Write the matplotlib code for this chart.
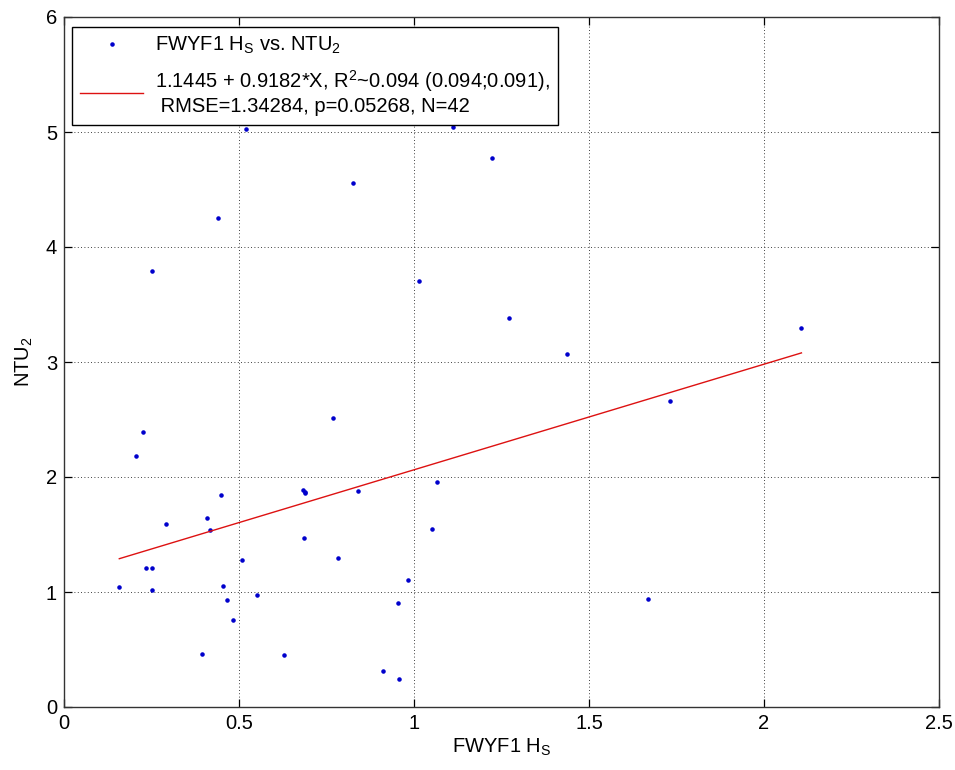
import matplotlib
matplotlib.use("Agg")
import matplotlib.pyplot as plt
import numpy as np

# FWYF1 Hs (x) vs NTU2 (y)
hs = [0.521, 1.110, 1.222, 0.825, 0.441, 0.252, 1.013, 1.271, 1.437, 2.107,
      0.769, 1.732, 0.227, 0.205, 0.449, 0.683, 0.689, 0.839, 1.067, 0.292,
      0.409, 0.417, 1.051, 0.686, 0.508, 0.783, 0.233, 0.251, 0.158, 0.252,
      0.454, 0.984, 0.465, 0.551, 0.954, 1.668, 0.484, 0.395, 0.629, 0.911,
      0.957, 0.689]
ntu = [5.026, 5.040, 4.770, 4.557, 4.252, 3.794, 3.707, 3.379, 3.070, 3.300,
       2.513, 2.665, 2.394, 2.183, 1.843, 1.887, 1.870, 1.878, 1.953, 1.591,
       1.640, 1.542, 1.544, 1.470, 1.278, 1.296, 1.209, 1.209, 1.043, 1.017,
       1.052, 1.107, 0.930, 0.977, 0.904, 0.935, 0.757, 0.461, 0.452, 0.313,
       0.246, 1.865]

intercept, slope = 1.1445, 0.9182
fit_label = ("1.1445 + 0.9182*X, R$^2$~0.094 (0.094;0.091),\n"
             " RMSE=1.34284, p=0.05268, N=42")

plt.rcParams.update({
    "font.family": ["Liberation Sans", "DejaVu Sans"],
    "font.size": 14.5,
    "mathtext.default": "regular",
    "axes.linewidth": 1.0,
    "xtick.direction": "in", "ytick.direction": "in",
    "xtick.top": True, "ytick.right": True,
    "xtick.major.size": 6, "ytick.major.size": 6,
    "xtick.major.width": 0.9, "ytick.major.width": 0.9,
    "xtick.major.pad": 5, "ytick.major.pad": 5,
})

fig = plt.figure(figsize=(9.55, 7.70), dpi=100)
ax = fig.add_axes([64 / 955, 1 - 707 / 770, 875 / 955, 690 / 770])

x = np.array(hs)
y = np.array(ntu)
ax.plot(x, y, ".", color="#0000CC", ms=4.5, label="FWYF1 H$_S$ vs. NTU$_2$")
xf = np.array([x.min(), x.max()])
ax.plot(xf, intercept + slope * xf, color="#DD1111", lw=1.0, label=fit_label)

ax.set_xlim(0, 2.5)
ax.set_ylim(0, 6)
ax.set_xticks(np.arange(0, 2.51, 0.5))
ax.set_xticklabels(["0", "0.5", "1", "1.5", "2", "2.5"])
ax.set_yticks(range(7))
ax.grid(True, color="black", ls=(0, (1, 3)), lw=0.6)
for s in ax.spines.values():
    s.set_color("#333333")

ax.set_xlabel("FWYF1 H$_S$", labelpad=3)
ax.set_ylabel("NTU$_2$", labelpad=8)

leg = ax.legend(loc="upper left", bbox_to_anchor=(0.009, 0.986), borderaxespad=0,
                fancybox=False, framealpha=1, edgecolor="black",
                handlelength=3.1, handletextpad=0.6, labelspacing=0.6,
                borderpad=0.42, markerscale=1.0)
leg.get_frame().set_linewidth(1.0)

fig.savefig("out.png", dpi=100)
